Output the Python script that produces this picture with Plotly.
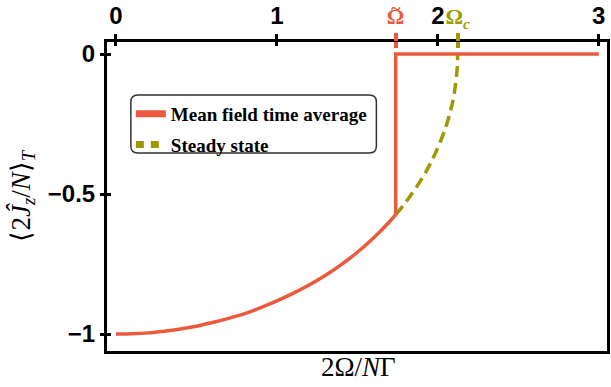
import plotly.graph_objects as go

# ---------------- data ----------------
OMEGA_TILDE = 1.738
OMEGA_C = 2.123

mf_x = [0.0, 0.1, 0.2, 0.3, 0.4, 0.5, 0.6, 0.7, 0.8, 0.9, 1.0, 1.1, 1.2,
        1.3, 1.4, 1.5, 1.6, 1.7, 1.738, 1.738, 3.0]
mf_y = [-1.0, -0.999, -0.996, -0.990, -0.982, -0.972, -0.959, -0.944,
        -0.927, -0.906, -0.882, -0.855, -0.825, -0.791, -0.752, -0.708,
        -0.657, -0.599, -0.574, 0.0, 0.0]
JUMP = 18  # index where the smooth part ends

ss_x = [1.738, 1.8, 1.9, 1.95, 2.0, 2.05, 2.08, 2.1, 2.12, 2.123]
ss_y = [-0.574, -0.530, -0.446, -0.395, -0.335, -0.260, -0.200, -0.147,
        -0.053, 0.0]

x_ticks = [0, 1, 2, 3]
x_ticktext = ["0", "1", "2", "3"]
y_ticks = [0, -0.5, -1]
y_ticktext = ["0", "\u22120.5", "\u22121"]

names = ["<b>Mean field time average</b>", "<b>Steady state</b>"]
RED = "#EB5A3C"
OLIVE = "#9C9A00"

# ---------------- layout geometry ----------------
W, H = 611, 387
ML, MR, MT, MB = 107, 1, 42, 36
PW, PH = W - ML - MR, H - MT - MB
XR = [-0.0556, 3.051]
YR = [-1.0607, 0.0429]


def px2paper(px, py):
    return (px - ML) / PW, (H - MB - py) / PH


fig = go.Figure()

# curves
fig.add_trace(go.Scatter(x=ss_x, y=ss_y, mode="lines", showlegend=False,
                         line=dict(color=OLIVE, width=3.5, dash="11px,6px", shape="spline")))
fig.add_trace(go.Scatter(x=mf_x[:JUMP + 1], y=mf_y[:JUMP + 1], mode="lines", showlegend=False,
                         line=dict(color=RED, width=3.5, shape="spline")))
fig.add_trace(go.Scatter(x=mf_x[JUMP:], y=mf_y[JUMP:], mode="lines", showlegend=False,
                         line=dict(color=RED, width=3.5)))
# legend entries
fig.add_trace(go.Scatter(x=[None], y=[None], mode="lines", name=names[0],
                         legendgroup="a", line=dict(color=RED, width=7)))
fig.add_trace(go.Scatter(x=[None], y=[None], mode="lines", name=names[1],
                         legendgroup="b", line=dict(color=OLIVE, width=7, dash="8px,7px")))

axis_common = dict(range=XR, showgrid=False, zeroline=False, fixedrange=True)
tick_font = dict(family="Liberation Sans", size=24, color="black", weight=700)

fig.update_layout(
    width=W, height=H,
    margin=dict(l=ML, r=MR, t=MT, b=MB),
    paper_bgcolor="white", plot_bgcolor="white",
    xaxis=dict(**axis_common, side="top", tickmode="array", tickvals=x_ticks,
               ticktext=x_ticktext, ticks="outside", ticklen=5, tickwidth=3,
               tickcolor="black", showline=True, linewidth=3, linecolor="black",
               mirror=True, tickfont=tick_font),
    xaxis2=dict(**axis_common, overlaying="x", anchor="y", side="top",
                tickmode="array", tickvals=x_ticks, ticks="inside", ticklen=4,
                tickwidth=3, tickcolor="black", showticklabels=False, showline=False),
    xaxis3=dict(**axis_common, overlaying="x", anchor="y", side="top",
                tickmode="array", tickvals=[OMEGA_TILDE], ticktext=["<b>\u03a9</b>"],
                ticks="outside", ticklen=8, tickwidth=4, tickcolor=RED, showline=False,
                tickfont=dict(family="Liberation Serif", size=22, color=RED)),
    xaxis4=dict(**axis_common, overlaying="x", anchor="y", side="top",
                tickmode="array", tickvals=[OMEGA_TILDE], ticks="inside", ticklen=6,
                tickwidth=4, tickcolor=RED, showticklabels=False, showline=False),
    xaxis5=dict(**axis_common, overlaying="x", anchor="y", side="top",
                tickmode="array", tickvals=[OMEGA_C], ticktext=["<b>\u03a9<sub><i>c</i></sub></b>"],
                ticks="outside", ticklen=8, tickwidth=4, tickcolor=OLIVE, showline=False,
                tickfont=dict(family="Liberation Serif", size=22, color=OLIVE)),
    xaxis6=dict(**axis_common, overlaying="x", anchor="y", side="top",
                tickmode="array", tickvals=[OMEGA_C], ticks="inside", ticklen=6,
                tickwidth=4, tickcolor=OLIVE, showticklabels=False, showline=False),
    yaxis=dict(range=YR, showgrid=False, zeroline=False, fixedrange=True,
               tickmode="array", tickvals=y_ticks, ticktext=y_ticktext,
               ticks="outside", ticklen=4, tickwidth=3, tickcolor="black",
               showline=True, linewidth=3, linecolor="black", mirror=True,
               tickfont=tick_font),
    yaxis2=dict(range=YR, overlaying="y", anchor="x", side="left", showgrid=False,
                zeroline=False, fixedrange=True, tickmode="array", tickvals=y_ticks,
                ticks="inside", ticklen=4, tickwidth=3, tickcolor="black",
                showticklabels=False, showline=False),
    legend=dict(x=px2paper(131, 95)[0], y=px2paper(131, 95)[1],
                xanchor="left", yanchor="top", bgcolor="rgba(0,0,0,0)",
                borderwidth=0, itemwidth=30, tracegroupgap=3,
                font=dict(family="Liberation Serif", size=19, color="black")),
)

# dummy traces to activate overlay axes
for xa in ["x2", "x3", "x4", "x5", "x6"]:
    fig.add_trace(go.Scatter(x=[None], y=[None], xaxis=xa, yaxis="y", showlegend=False))
fig.add_trace(go.Scatter(x=[None], y=[None], xaxis="x", yaxis="y2", showlegend=False))

# tilde over the Omega tick label
fig.add_annotation(text="<b>~</b>", x=OMEGA_TILDE, xref="x", y=px2paper(0, 9)[1], yref="paper",
                   showarrow=False, xanchor="center", yanchor="middle",
                   font=dict(family="Liberation Serif", size=18, color=RED))

# rounded legend frame
x0, y0 = px2paper(131, 153)
x1, y1 = px2paper(378, 95)
rx, ry = 7 / PW, 7 / PH
path = (f"M{x0+rx},{y0} L{x1-rx},{y0} Q{x1},{y0} {x1},{y0+ry} "
        f"L{x1},{y1-ry} Q{x1},{y1} {x1-rx},{y1} L{x0+rx},{y1} Q{x0},{y1} {x0},{y1-ry} "
        f"L{x0},{y0+ry} Q{x0},{y0} {x0+rx},{y0} Z")
fig.add_shape(type="path", path=path, xref="paper", yref="paper",
              line=dict(color="#333333", width=1.5), fillcolor="rgba(0,0,0,0)", layer="below")

# axis titles
ax_, ay_ = px2paper(22, 196)
fig.add_annotation(text="\u27e82<i>\u0134</i><sub><i>z</i></sub>/<i>N</i>\u27e9<sub><i>T</i></sub>",
                   x=ax_, y=ay_, xref="paper", yref="paper", showarrow=False,
                   xanchor="center", yanchor="middle",
                   textangle=-90, font=dict(family="Liberation Serif", size=27, color="black"))
bx_, by_ = px2paper(360, 367)
fig.add_annotation(text="2\u03a9/<i>N</i>\u0393", x=bx_, y=by_, xref="paper", yref="paper",
                   showarrow=False, xanchor="center", yanchor="middle",
                   font=dict(family="Liberation Serif", size=27, color="black"))

fig.write_html("out.html")
